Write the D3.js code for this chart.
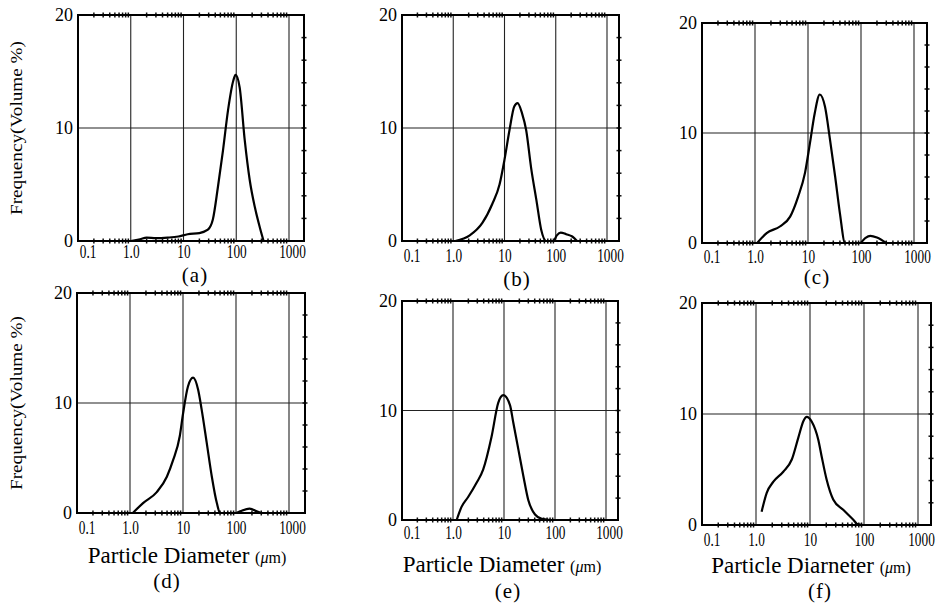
<!DOCTYPE html>
<html>
<head>
<meta charset="utf-8">
<script src="https://cdn.jsdelivr.net/npm/d3@7"></script>
<style>
  body { margin: 0; background: #fff; }
  svg { display: block; font-family: "Liberation Serif", "Times New Roman", serif; }
</style>
</head>
<body>
<div class="chart"></div>
<script>
// axis ticks and labels
var xTickValues = [0.1, 1, 10, 100, 1000],
    xTickLabels = ['0.1', '1.0', '10', '100', '1000'],
    yTickValues = [0, 10, 20],
    panelLabels = ['(a)', '(b)', '(c)', '(d)', '(e)', '(f)'],
    xTitles = [null, null, null, 'Particle Diameter', 'Particle Diameter', 'Particle Diarneter'],
    yTitles = ['Frequency(Volume %)', null, null, 'Frequency(Volume %)', null, null];

// particle diameter (um) / frequency (volume %)
var diamA = [1.0, 1.5, 2, 3, 5, 8, 12, 20, 29, 36, 45, 56, 70, 88, 97, 116, 145, 180, 225, 280, 330],
    freqA = [0, 0.15, 0.3, 0.25, 0.3, 0.4, 0.6, 0.7, 1.0, 1.9, 4.8, 8.0, 11.6, 14.2, 14.7, 13.6, 8.9, 5.4, 3.0, 1.2, 0];

var diamB = [1.1, 2.1, 3.7, 5.8, 8, 10, 12.5, 15.5, 18, 22, 26.5, 33, 42, 52, 65, 90, 105, 125, 160, 210, 260],
    freqB = [0, 0.5, 1.6, 3.3, 5.0, 7.2, 9.8, 11.9, 12.2, 11.3, 9.8, 6.5, 3.6, 1.0, 0, 0, 0.5, 0.75, 0.6, 0.4, 0];

var diamC = [1.1, 1.66, 2.95, 4.6, 6.5, 8.8, 10.9, 13.4, 16.7, 20.9, 26, 32.6, 40, 50, 95, 120, 150, 200, 300],
    freqC = [0, 0.9, 1.5, 2.4, 4.2, 6.4, 9.1, 11.8, 13.5, 12.4, 9.4, 6.0, 2.7, 0, 0, 0.45, 0.65, 0.5, 0];

var diamD = [1.13, 1.76, 3.2, 4.96, 6.5, 8.7, 10, 12.4, 15.5, 19.3, 22.5, 28, 35, 43.5, 50, 100, 120, 180, 260, 300],
    freqD = [0, 0.9, 1.9, 3.3, 4.8, 7.0, 9.0, 11.5, 12.3, 11.2, 9.4, 6.4, 3.3, 0.9, 0, 0, 0.15, 0.4, 0.1, 0];

var diamE = [1.18, 1.47, 1.98, 2.9, 3.9, 5.7, 7.7, 9.7, 13.1, 15.2, 19.2, 24, 30, 40.6, 55, 80],
    freqE = [0, 1.2, 2.1, 3.4, 4.6, 7.6, 10.7, 11.4, 10.5, 8.9, 6.4, 4.0, 1.8, 0.5, 0.1, 0];

var diamF = [1.27, 1.58, 2.1, 3.2, 4.6, 6.1, 7.6, 8.7, 10.8, 14.2, 16.4, 20.3, 26.9, 41.7, 64, 77, 95],
    freqF = [1.2, 2.9, 3.9, 4.8, 5.9, 7.9, 9.4, 9.75, 9.3, 7.7, 6.2, 4.1, 2.3, 1.35, 0.45, 0.05, 0];

var series = [[diamA, freqA], [diamB, freqB], [diamC, freqC], [diamD, freqD], [diamE, freqE], [diamF, freqF]];

function init() {
  var width = 936,
      height = 603,
      // pixel box of every panel: x of 0.1 and 1000, frame right edge, top/bottom, label offsets
      boxes = [
        { left: 78,  x1000: 289, right: 304, top: 15,  bottom: 241, pad: 5, cap: [195, 282] },
        { left: 402, x1000: 607, right: 619, top: 15,  bottom: 241, pad: 9, cap: [517, 286] },
        { left: 702, x1000: 914, right: 927, top: 23,  bottom: 243, pad: 8, cap: [817, 284] },
        { left: 77,  x1000: 289, right: 305, top: 293, bottom: 513, pad: 9, cap: [167, 588], title: [187, 563] },
        { left: 402, x1000: 606, right: 618, top: 301, bottom: 520, pad: 7, cap: [508, 598], title: [502, 572] },
        { left: 702, x1000: 918, right: 931, top: 303, bottom: 525, pad: 9, cap: [820, 598], title: [811, 573] }
      ];

  var svg = d3.select('.chart')
    .append('svg')
      .attr('width', width)
      .attr('height', height);

  svg.append('rect')
      .attr('width', width)
      .attr('height', height)
      .attr('fill', '#fff');

  boxes.forEach(function(b, i) {
    var x = d3.scaleLog().domain([0.1, 1000]).range([b.left, b.x1000]),
        y = d3.scaleLinear().domain([0, 20]).range([b.bottom, b.top]),
        g = svg.append('g').attr('class', 'panel');

    var minor = x.ticks().filter(function(d) { return xTickValues.indexOf(d) < 0; });

    // grid
    g.selectAll('line.vgrid').data(xTickValues.slice(1))
      .enter().append('line')
        .attr('class', 'vgrid')
        .attr('x1', function(d) { return x(d); })
        .attr('x2', function(d) { return x(d); })
        .attr('y1', b.top)
        .attr('y2', b.bottom)
        .attr('stroke', '#222')
        .attr('stroke-width', 1.1);

    g.append('line')
        .attr('x1', b.left)
        .attr('x2', b.right)
        .attr('y1', y(10))
        .attr('y2', y(10))
        .attr('stroke', '#222')
        .attr('stroke-width', 1.1);

    // minor log ticks on bottom and top edges
    [b.bottom, b.top].forEach(function(edge) {
      g.selectAll(null).data(minor)
        .enter().append('line')
          .attr('x1', function(d) { return x(d); })
          .attr('x2', function(d) { return x(d); })
          .attr('y1', edge - 2.5)
          .attr('y2', edge + 2.5)
          .attr('stroke', '#111')
          .attr('stroke-width', 1.5);
    });

    // small ticks on the right edge
    g.selectAll(null).data(d3.range(2, 20, 2))
      .enter().append('line')
        .attr('x1', b.right - 2.5)
        .attr('x2', b.right + 2.5)
        .attr('y1', function(d) { return y(d); })
        .attr('y2', function(d) { return y(d); })
        .attr('stroke', '#111')
        .attr('stroke-width', 1.5);

    // frame
    g.append('rect')
        .attr('x', b.left)
        .attr('y', b.top)
        .attr('width', b.right - b.left)
        .attr('height', b.bottom - b.top)
        .attr('fill', 'none')
        .attr('stroke', '#000')
        .attr('stroke-width', 2);

    // curve
    var line = d3.line()
        .x(function(d) { return x(d[0]); })
        .y(function(d) { return y(d[1]); })
        .curve(d3.curveMonotoneX);

    g.append('path')
        .datum(d3.zip(series[i][0], series[i][1]))
        .attr('d', line)
        .attr('fill', 'none')
        .attr('stroke', '#000')
        .attr('stroke-width', 2.2)
        .attr('stroke-linejoin', 'round');

    // axes labels
    var xAxis = d3.axisBottom(x)
        .tickValues(xTickValues)
        .tickFormat(function(d, j) { return xTickLabels[j]; })
        .tickSize(0)
        .tickPadding(b.pad);

    var xg = g.append('g')
        .attr('transform', 'translate(0,' + b.bottom + ')')
        .call(xAxis)
        .attr('font-family', null)
        .attr('font-size', null);
    xg.select('.domain').remove();
    xg.selectAll('text')
        .attr('font-size', 18)
        .attr('fill', '#000')
        .attr('transform', 'scale(0.74,1)')
        .attr('dy', '0.66em')
        .attr('dx', function(d, j) { return j === 0 ? 13 : (j === 4 ? 4 : 0); });

    var yAxis = d3.axisLeft(y)
        .tickValues(yTickValues)
        .tickSize(0)
        .tickPadding(5);

    var yg = g.append('g')
        .attr('transform', 'translate(' + b.left + ',0)')
        .call(yAxis)
        .attr('font-family', null)
        .attr('font-size', null);
    yg.select('.domain').remove();
    yg.selectAll('text')
        .attr('font-size', 18)
        .attr('fill', '#000');

    // panel caption
    g.append('text')
        .attr('x', b.cap[0])
        .attr('y', b.cap[1])
        .attr('text-anchor', 'middle')
        .attr('font-size', 21)
        .attr('letter-spacing', 1)
        .text(panelLabels[i]);

    if (xTitles[i]) {
      var t = g.append('text')
          .attr('x', b.title[0])
          .attr('y', b.title[1])
          .attr('text-anchor', 'middle')
          .attr('font-size', 23);
      t.append('tspan').text(xTitles[i] + ' ');
      t.append('tspan').attr('font-size', 16).text('(');
      t.append('tspan').attr('font-size', 16).attr('font-style', 'italic').text('\u03bc');
      t.append('tspan').attr('font-size', 16).text('m)');
    }

    if (yTitles[i]) {
      g.append('text')
          .attr('transform', 'translate(22,' + (b.top + b.bottom) / 2 + ') rotate(-90)')
          .attr('text-anchor', 'middle')
          .attr('font-size', 16)
          .attr('textLength', 174)
          .attr('lengthAdjust', 'spacingAndGlyphs')
          .text(yTitles[i]);
    }
  });
}

d3.select(window).on('load', init);
</script>
</body>
</html>
